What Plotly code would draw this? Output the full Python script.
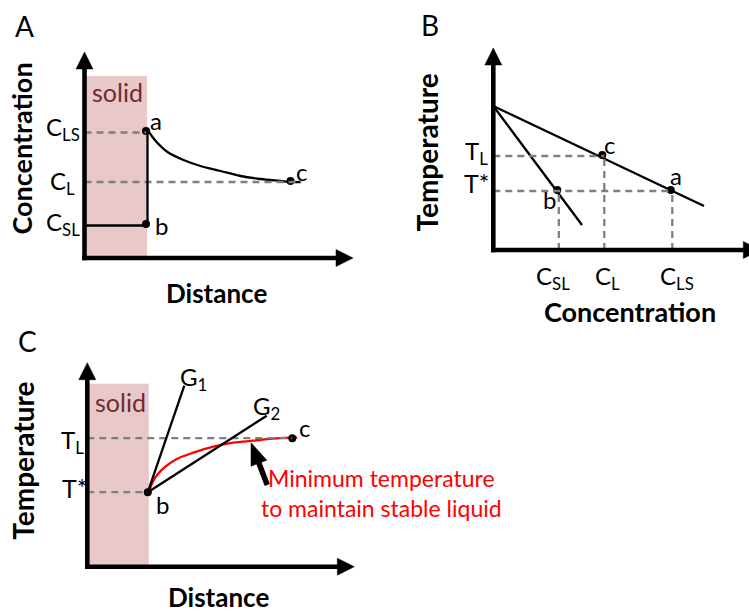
import math
import plotly.graph_objects as go

W, H = 749, 612
UNIT = 10.0  # px per schematic unit (same for all panels)
FONT = "Lato"

# ---------------- data (schematic units) ----------------
# Panel A : concentration profile vs distance
A_AXIS_X_MAX, A_AXIS_Y_MAX = 26.85, 20.6
A_SOLID_X, A_SOLID_TOP = 6.25, 18.2
A_C_LS, A_C_L, A_C_SL = 12.55, 7.6, 3.25
A_INTERFACE_X = 6.3
A_PT_LABELS = ["a", "b", "c"]
A_PT_X = [6.15, 6.15, 20.6]
A_PT_Y = [12.7, 3.4, 7.7]
A_CURVE_X = [6.4, 6.8, 7.3, 8.3, 9.9, 11.6, 13.6, 15.6, 17.6, 19.6, 20.6, 21.6]
A_CURVE_Y = [12.7, 12.1, 11.5, 10.6, 9.8, 9.2, 8.7, 8.2, 7.9, 7.7, 7.6, 7.6]
A_CL_DASH_END = 21.7

# Panel B : phase diagram (temperature vs concentration)
B_AXIS_X_MAX, B_AXIS_Y_MAX = 26.7, 20.2
B_LIQUIDUS_X = [0.0, 21.07]
B_LIQUIDUS_Y = [14.4, 4.4]
B_SOLIDUS_X = [0.0, 8.87]
B_SOLIDUS_Y = [14.4, 2.5]
B_T_L, B_T_STAR = 9.4, 5.9
B_C_SL, B_C_L, B_C_LS = 6.55, 11.1, 17.9
B_PT_LABELS = ["c", "a", "b"]
B_PT_X = [10.9, 17.75, 6.4]
B_PT_Y = [9.5, 6.0, 6.0]

# Panel C : temperature vs distance
C_AXIS_X_MAX, C_AXIS_Y_MAX = 26.7, 20.4
C_SOLID_X0, C_SOLID_X, C_SOLID_TOP = 0.15, 6.15, 18.3
C_T_L, C_T_STAR = 12.85, 7.45
C_PT_LABELS = ["b", "c"]
C_PT_X = [6.05, 20.5]
C_PT_Y = [7.45, 12.85]
C_G1_END = (9.7, 18.1)
C_G2_END = (17.94, 15.1)
C_MIN_T_X = [6.2, 6.5, 7.0, 7.8, 9.0, 10.6, 12.6, 14.6, 16.6, 18.6, 20.5, 21.0]
C_MIN_T_Y = [7.5, 8.4, 9.2, 10.0, 10.8, 11.4, 12.0, 12.4, 12.6, 12.8, 12.9, 12.9]
C_POINTER_TAIL = (18.0, 8.17)
C_POINTER_TIP = (16.37, 12.4)
C_NOTE = "Minimum temperature<br>to maintain stable liquid"

# ---------------- layout constants (pixel origins of panels) ----------------
ORIG = {"A": (84.5, 258.0), "B": (493.3, 250.0), "C": (87.3, 566.7)}
REF = {"A": ("x", "y"), "B": ("x2", "y2"), "C": ("x3", "y3")}

AXIS_W = 4.6
LINE_W = 2.3
DASH_COL = "#7f7f7f"
DASH = "7px,5px"
SOLID_FILL = "#e8c8c8"
SOLID_TXT = "#6e2b33"
LBL = 24      # point / tick label size
TITLE = 27    # axis title size

fig = go.Figure()
shapes = []
annos = []


def rng(panel):
    ox, oy = ORIG[panel]
    return [(0 - ox) / UNIT, (W - ox) / UNIT], [(oy - H) / UNIT, oy / UNIT]


def line(panel, x0, y0, x1, y1, color="black", width=LINE_W, dash=None, layer="above"):
    xr, yr = REF[panel]
    d = dict(type="line", xref=xr, yref=yr, x0=x0, y0=y0, x1=x1, y1=y1,
             line=dict(color=color, width=width), layer=layer)
    if dash:
        d["line"]["dash"] = dash
    shapes.append(d)


def arrow(panel, tail, tip, width, head_len_px, head_w_px):
    xr, yr = REF[panel]
    dx, dy = tip[0] - tail[0], tip[1] - tail[1]
    L = math.hypot(dx, dy)
    ux, uy = dx / L, dy / L
    hl, hw = head_len_px / UNIT, head_w_px / UNIT
    bx, by = tip[0] - ux * hl, tip[1] - uy * hl
    line(panel, tail[0], tail[1], bx + ux * 0.2, by + uy * 0.2, width=width)
    px_, py_ = -uy, ux
    p = (f"M{tip[0]},{tip[1]} L{bx + px_ * hw / 2},{by + py_ * hw / 2} "
         f"L{bx - px_ * hw / 2},{by - py_ * hw / 2} Z")
    shapes.append(dict(type="path", xref=xr, yref=yr, path=p,
                       fillcolor="black", line=dict(color="black", width=0.5), layer="above"))


def text(panel, x, y, s, size=LBL, color="black", xanchor="center", yanchor="middle",
         bold=False, angle=0, xshift=0, yshift=0, align="center"):
    xr, yr = REF[panel] if panel else ("paper", "paper")
    if bold:
        s = f"<b>{s}</b>"
    annos.append(dict(x=x, y=y, xref=xr, yref=yr, text=s, showarrow=False,
                      font=dict(family=FONT, size=size, color=color),
                      xanchor=xanchor, yanchor=yanchor, textangle=angle,
                      xshift=xshift, yshift=yshift, align=align))


def dots(panel, xs, ys):
    xr, yr = REF[panel]
    fig.add_trace(go.Scatter(x=xs, y=ys, xaxis=xr, yaxis=yr, mode="markers",
                             marker=dict(color="black", size=8), hoverinfo="skip",
                             showlegend=False))


def axes(panel, xmax, ymax):
    o = -AXIS_W / 2 / UNIT
    arrow(panel, (o, 0), (xmax, 0), AXIS_W, 17, 17)
    arrow(panel, (0, o), (0, ymax), AXIS_W, 17, 17)


# ---------------- Panel A ----------------
shapes.append(dict(type="rect", xref="x", yref="y", x0=0, x1=A_SOLID_X, y0=0, y1=A_SOLID_TOP,
                   fillcolor=SOLID_FILL, line=dict(width=0), layer="below"))
line("A", 0, A_C_LS, A_PT_X[0], A_C_LS, color=DASH_COL, dash=DASH)
line("A", 0, A_C_L, A_CL_DASH_END, A_C_L, color=DASH_COL, dash=DASH)
line("A", 0, A_C_SL, A_INTERFACE_X, A_C_SL)
line("A", A_INTERFACE_X, A_C_SL, A_INTERFACE_X, A_C_LS)
fig.add_trace(go.Scatter(x=A_CURVE_X, y=A_CURVE_Y, xaxis="x", yaxis="y", mode="lines",
                         line=dict(color="black", width=LINE_W, shape="spline"),
                         hoverinfo="skip", showlegend=False))
dots("A", A_PT_X, A_PT_Y)
axes("A", A_AXIS_X_MAX, A_AXIS_Y_MAX)
text("A", 3.3, 16.6, "solid", size=25, color=SOLID_TXT)
text("A", 7.15, 13.8, "a")
text("A", 7.65, 3.25, "b")
text("A", 21.7, 8.7, "c")
text("A", -4.05, A_C_LS, "C<sub>LS</sub>", xanchor="left", yshift=4)
text("A", -3.7, A_C_L, "C<sub>L</sub>", xanchor="left", yshift=0)
text("A", -4.05, A_C_SL, "C<sub>SL</sub>", xanchor="left", yshift=2)
text("A", -6.35, 10.95, "Concentration", size=TITLE, bold=True, angle=-90)
text("A", 13.2, -3.5, "Distance", size=26, bold=True)

# ---------------- Panel B ----------------
fig.add_trace(go.Scatter(x=B_LIQUIDUS_X, y=B_LIQUIDUS_Y, xaxis="x2", yaxis="y2", mode="lines",
                         line=dict(color="black", width=LINE_W), hoverinfo="skip", showlegend=False))
fig.add_trace(go.Scatter(x=B_SOLIDUS_X, y=B_SOLIDUS_Y, xaxis="x2", yaxis="y2", mode="lines",
                         line=dict(color="black", width=LINE_W), hoverinfo="skip", showlegend=False))
line("B", 0, B_T_L, B_C_L, B_T_L, color=DASH_COL, dash=DASH)
line("B", 0, B_T_STAR, B_C_LS, B_T_STAR, color=DASH_COL, dash=DASH)
line("B", B_C_SL, 0, B_C_SL, B_T_STAR, color=DASH_COL, dash=DASH)
line("B", B_C_L, 0, B_C_L, B_T_L, color=DASH_COL, dash=DASH)
line("B", B_C_LS, 0, B_C_LS, B_T_STAR, color=DASH_COL, dash=DASH)
dots("B", B_PT_X, B_PT_Y)
axes("B", B_AXIS_X_MAX, B_AXIS_Y_MAX)
text("B", 11.6, 10.6, "c")
text("B", 18.24, 7.5, "a")
text("B", 5.57, 5.1, "b")
text("B", -3.06, B_T_L, "T<sub>L</sub>", xanchor="left", yshift=4)
text("B", -3.16, B_T_STAR, "T*", size=25, xanchor="left", yshift=8)
text("B", B_C_SL - 0.55, -2.3, "C<sub>SL</sub>", yshift=-4)
text("B", B_C_L + 0.3, -2.3, "C<sub>L</sub>", yshift=-4)
text("B", B_C_LS + 0.5, -2.3, "C<sub>LS</sub>", yshift=-4)
text("B", -6.73, 9.75, "Temperature", size=28, bold=True, angle=-90)
text("B", 13.67, -6.1, "Concentration", size=TITLE, bold=True)

# ---------------- Panel C ----------------
shapes.append(dict(type="rect", xref="x3", yref="y3", x0=C_SOLID_X0, x1=C_SOLID_X, y0=0,
                   y1=C_SOLID_TOP, fillcolor=SOLID_FILL, line=dict(width=0), layer="below"))
line("C", 0, C_T_L, C_PT_X[1], C_T_L, color=DASH_COL, dash=DASH)
line("C", 0, C_T_STAR, C_PT_X[0], C_T_STAR, color=DASH_COL, dash=DASH)
line("C", C_PT_X[0], C_PT_Y[0], C_G1_END[0], C_G1_END[1])
line("C", C_PT_X[0], C_PT_Y[0], C_G2_END[0], C_G2_END[1])
fig.add_trace(go.Scatter(x=C_MIN_T_X, y=C_MIN_T_Y, xaxis="x3", yaxis="y3", mode="lines",
                         line=dict(color="red", width=LINE_W, shape="spline"),
                         hoverinfo="skip", showlegend=False))
dots("C", C_PT_X, C_PT_Y)
axes("C", C_AXIS_X_MAX, C_AXIS_Y_MAX)
arrow("C", C_POINTER_TAIL, C_POINTER_TIP, 5.5, 22, 17)
text("C", 3.3, 16.5, "solid", size=25, color=SOLID_TXT)
text("C", 9.07, 19.17, "G<sub>1</sub>", xanchor="left", yshift=-3)
text("C", 16.34, 16.2, "G<sub>2</sub>", xanchor="left", yshift=-3)
text("C", 21.7, 13.97, "c")
text("C", 7.47, 6.27, "b")
text("C", -2.83, C_T_L, "T<sub>L</sub>", xanchor="left", yshift=-3)
text("C", -2.73, 7.87, "T*", size=25, xanchor="left")
text("C", 29.4, 7.37, C_NOTE, size=23, color="red")
text("C", -6.43, 10.6, "Temperature", size=28, bold=True, angle=-90)
text("C", 13.14, -3.48, "Distance", size=26, bold=True, yshift=5)

# panel letters
text(None, 24 / W, 1 - 26 / H, "A", size=28)
text(None, 430 / W, 1 - 25 / H, "B", size=28)
text(None, 27 / W, 1 - 341 / H, "C", size=28)

layout_axes = {}
for i, p in enumerate(["A", "B", "C"]):
    xr, yr = rng(p)
    sx = "" if i == 0 else str(i + 1)
    xa = dict(range=xr, visible=False, domain=[0, 1], fixedrange=True)
    ya = dict(range=yr, visible=False, domain=[0, 1], fixedrange=True)
    if i > 0:
        xa["overlaying"] = "x"
        ya["overlaying"] = "y"
        xa["anchor"] = "y" + sx
        ya["anchor"] = "x" + sx
    layout_axes["xaxis" + sx] = xa
    layout_axes["yaxis" + sx] = ya

fig.update_layout(width=W, height=H, autosize=False, margin=dict(l=0, r=0, t=0, b=0),
                  paper_bgcolor="white", plot_bgcolor="white", showlegend=False,
                  shapes=shapes, annotations=annos, **layout_axes)
fig.write_html("out.html")
